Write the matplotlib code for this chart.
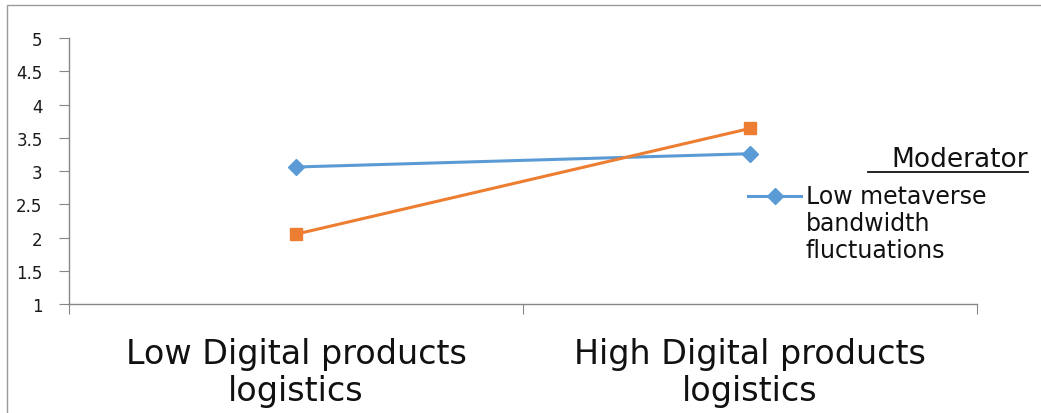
import matplotlib
matplotlib.use("Agg")
import matplotlib.pyplot as plt
from matplotlib.lines import Line2D
from matplotlib.patches import Rectangle

categories = ["Low Digital products\nlogistics", "High Digital products\nlogistics"]
series_names = ["Low metaverse\nbandwidth\nfluctuations", "High metaverse\nbandwidth\nfluctuations"]
low_mod = [3.06, 3.26]
high_mod = [2.05, 3.64]
y_ticks = [1, 1.5, 2, 2.5, 3, 3.5, 4, 4.5, 5]
y_tick_labels = ["1", "1.5", "2", "2.5", "3", "3.5", "4", "4.5", "5"]
legend_title = "Moderator"

blue = "#5B9BD5"
orange = "#ED7D31"
axis_gray = "#868686"
W, H = 1041, 414

plt.rcParams["font.family"] = ["DejaVu Sans"]

fig = plt.figure(figsize=(W / 100, H / 100), dpi=100)
ax = fig.add_axes([69 / W, 1 - 305 / H, (977 - 69) / W, (305 - 39) / H])

x = list(range(len(categories)))
ax.plot(x, low_mod, color=blue, lw=2.2, marker="D", ms=8, label=series_names[0])
ax.plot(x, high_mod, color=orange, lw=2.2, marker="s", ms=9, label=series_names[1])

ax.set_xlim(-0.5, len(categories) - 0.5)
ax.set_ylim(1, 5)
ax.set_yticks(y_ticks)
ax.set_yticklabels(y_tick_labels, fontsize=12, color="#1a1a1a")
ax.tick_params(axis="y", length=7, color=axis_gray, pad=12)

ax.set_xticks([-0.5, 0.5, 1.5])
ax.set_xticklabels([])
ax.set_xticks(x, minor=True)
ax.set_xticklabels(categories, minor=True, fontsize=24, linespacing=1.13, color="#111111")
ax.tick_params(axis="x", which="major", length=7, color=axis_gray, direction="out")
ax.tick_params(axis="x", which="minor", length=0, pad=24)

for s in ["top", "right"]:
    ax.spines[s].set_visible(False)
for s in ["left", "bottom"]:
    ax.spines[s].set_color(axis_gray)
    ax.spines[s].set_linewidth(1)

# Legend (only the first entry is visible in the reference)
fig.text(1028 / W, 1 - 167 / H, legend_title, fontsize=19, ha="right", va="baseline", color="#111111")
fig.add_artist(Line2D([868 / W, 1028 / W], [1 - 173 / H, 1 - 173 / H],
                      color="#111111", lw=1.3, transform=fig.transFigure))
fig.add_artist(Line2D([748 / W, 775 / W, 801 / W], [1 - 197 / H] * 3, color=blue, lw=2.2,
                      marker="D", ms=8, markevery=[1], transform=fig.transFigure))
fig.text(806 / W, 1 - 185 / H, series_names[0], fontsize=17, ha="left", va="top",
         linespacing=1.15, color="#111111")

# outer chart border
fig.add_artist(Rectangle((7 / W, -0.5), 2, 1 - 6 / H + 0.5, transform=fig.transFigure,
                         fill=False, edgecolor="#9a9a9a", lw=1, clip_on=False))

fig.savefig("out.png", dpi=100)
